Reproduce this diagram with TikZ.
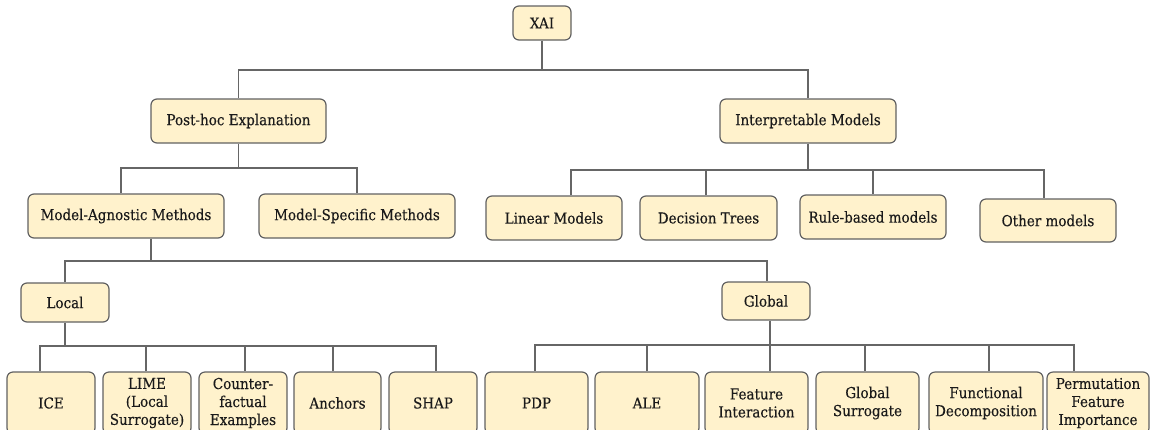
\documentclass[tikz,border=0pt]{standalone}
\usepackage{fontspec}
\setmainfont{DejaVu Serif}[FakeStretch=0.9, FakeBold=0.25]
\definecolor{boxfill}{HTML}{FFF2CC}
\definecolor{boxline}{HTML}{616161}
\definecolor{linkline}{HTML}{666666}
\definecolor{ink}{HTML}{1A1A1A}
\tikzset{
  box/.style={draw=boxline, fill=boxfill, rounded corners=6pt, line width=1.2pt,
    align=center, inner sep=0pt, text=ink,
    font=\fontsize{15}{18}\selectfont},
  link/.style={draw=linkline, line width=1.2pt},
}
\begin{document}
\begin{tikzpicture}[x=1pt,y=-1pt]
\useasboundingbox (0,0) rectangle (1150,429);
\clip (0,0) rectangle (1150,429);

% ---- nodes ----
\node[box, minimum width=58, minimum height=34] (xai) at (542,23) {XAI};

\node[box, minimum width=175, minimum height=44] (post) at (238.5,121) {Post-hoc Explanation};
\node[box, minimum width=176, minimum height=44] (interp) at (808,121) {Interpretable Models};

\node[box, minimum width=196, minimum height=44] (magn) at (126,216) {Model-Agnostic Methods};
\node[box, minimum width=196, minimum height=44] (mspec) at (357,216) {Model-Specific Methods};

\node[box, minimum width=136, minimum height=44] (lin) at (554,218) {Linear Models};
\node[box, minimum width=137, minimum height=44] (dtree) at (708.5,218) {Decision Trees};
\node[box, minimum width=146, minimum height=44] (rule) at (873,217) {Rule-based models};
\node[box, minimum width=136, minimum height=43] (other) at (1048,220.5) {Other models};

\node[box, minimum width=88, minimum height=39] (local) at (65,302.5) {Local};
\node[box, minimum width=88, minimum height=38] (global) at (766,301) {Global};

\node[box, minimum width=88, minimum height=62] (ice) at (51,403) {ICE};
\node[box, minimum width=88, minimum height=62] (lime) at (147,403) {LIME\\(Local\\Surrogate)};
\node[box, minimum width=88, minimum height=62] (cf) at (243,403) {Counter-\\factual\\Examples};
\node[box, minimum width=87, minimum height=62] (anch) at (337.5,403) {Anchors};
\node[box, minimum width=88, minimum height=62] (shap) at (433,403) {SHAP};

\node[box, minimum width=103, minimum height=62] (pdp) at (536.5,403) {PDP};
\node[box, minimum width=104, minimum height=62] (ale) at (647,403) {ALE};
\node[box, minimum width=103, minimum height=62] (fi) at (756.5,403) {Feature\\Interaction};
\node[box, minimum width=103, minimum height=62] (gs) at (867.5,403) {Global\\Surrogate};
\node[box, minimum width=114, minimum height=62] (fd) at (986,403) {Functional\\Decomposition};
\node[box, minimum width=102, minimum height=62] (pfi) at (1098,403) {Permutation\\Feature\\Importance};

% ---- bar levels ----
\coordinate (bar0) at (0,70);
\coordinate (bar1) at (0,168);
\coordinate (bar2) at (0,170);
\coordinate (bar3) at (0,261);
\coordinate (bar4) at (0,346);
\coordinate (bar5) at (0,345);

% XAI -> two branches
\draw[link] (xai.south) -- (xai.south |- bar0);
\draw[link] (post.north) -- (post.north |- bar0) -- (interp.north |- bar0) -- (interp.north);

% Post-hoc -> agnostic / specific
\draw[link] (post.south) -- (post.south |- bar1);
\draw[link] ([xshift=-5pt]magn.north) -- ([xshift=-5pt]magn.north |- bar1)
  -- (mspec.north |- bar1) -- (mspec.north);

% Interpretable -> model families
\draw[link] (interp.south) -- (interp.south |- bar2);
\draw[link] ([xshift=17pt]lin.north) -- ([xshift=17pt]lin.north |- bar2)
  -- ([xshift=-4pt]other.north |- bar2) -- ([xshift=-4pt]other.north);
\draw[link] ([xshift=-2.5pt]dtree.north) -- ([xshift=-2.5pt]dtree.north |- bar2);
\draw[link] (rule.north) -- (rule.north |- bar2);

% Model-agnostic -> local / global
\draw[link] ([xshift=25pt]magn.south) -- ([xshift=25pt]magn.south |- bar3);
\draw[link] (local.north) -- (local.north |- bar3)
  -- ([xshift=1pt]global.north |- bar3) -- ([xshift=1pt]global.north);

% Local -> methods
\draw[link] (local.south) -- (local.south |- bar4);
\draw[link] ([xshift=-11pt]ice.north) -- ([xshift=-11pt]ice.north |- bar4)
  -- ([xshift=3pt]shap.north |- bar4) -- ([xshift=3pt]shap.north);
\draw[link] ([xshift=-1pt]lime.north) -- ([xshift=-1pt]lime.north |- bar4);
\draw[link] ([xshift=2pt]cf.north) -- ([xshift=2pt]cf.north |- bar4);
\draw[link] ([xshift=-4.5pt]anch.north) -- ([xshift=-4.5pt]anch.north |- bar4);

% Global -> methods
\draw[link] ([xshift=4pt]global.south) -- ([xshift=4pt]global.south |- bar5);
\draw[link] ([xshift=-1.5pt]pdp.north) -- ([xshift=-1.5pt]pdp.north |- bar5)
  -- ([xshift=-24pt]pfi.north |- bar5) -- ([xshift=-24pt]pfi.north);
\draw[link] (ale.north) -- (ale.north |- bar5);
\draw[link] ([xshift=13.5pt]fi.north) -- ([xshift=13.5pt]fi.north |- bar5);
\draw[link] ([xshift=-2.5pt]gs.north) -- ([xshift=-2.5pt]gs.north |- bar5);
\draw[link] ([xshift=3pt]fd.north) -- ([xshift=3pt]fd.north |- bar5);
\end{tikzpicture}
\end{document}
